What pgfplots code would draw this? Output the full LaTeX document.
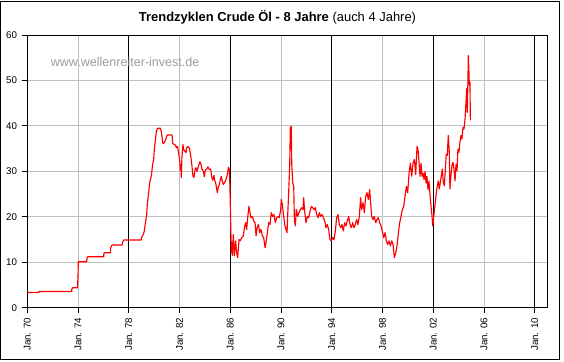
\documentclass[border=0pt]{standalone}
\usepackage{pgfplots}
\pgfplotsset{compat=1.18}
\usepackage{fontspec}
\setmainfont{Liberation Sans}
\definecolor{gridgray}{RGB}{192,192,192}
\definecolor{wmgray}{RGB}{155,155,155}
\begin{document}
\begin{tikzpicture}
\begin{axis}[
  at={(0,0)}, anchor=south west,
  scale only axis, width=520.2bp, height=272.7bp,
  xmin=1970, xmax=2011, ymin=0, ymax=60,
  xtick={1970,1974,...,2010},
  xticklabels={Jan. 70,Jan. 74,Jan. 78,Jan. 82,Jan. 86,Jan. 90,Jan. 94,Jan. 98,Jan. 02,Jan. 06,Jan. 10},
  ytick={0,10,...,60},
  xmajorgrids, ymajorgrids,
  major grid style={gridgray, line width=1bp},
  extra x ticks={1978,1986,1994,2002,2010},
  extra x tick labels={},
  extra x tick style={grid=major, major grid style={black, line width=1bp}},
  tick align=outside, major tick length=5bp,
  tick style={black, line width=1bp},
  xtick pos=bottom, ytick pos=left,
  axis line style={black, line width=1bp},
  /pgf/number format/assume math mode=true,
  x tick label style={rotate=90, anchor=east, inner sep=0pt, font=\fontsize{9.8}{11}\selectfont},
  y tick label style={anchor=east, inner sep=0pt, font=\fontsize{9.8}{11}\selectfont},
  xticklabel shift=5bp, yticklabel shift=5bp,
  clip=true,
]
\addplot[red, line width=1.15bp, line join=round] table {
1970.00 3.35
1970.92 3.35
1970.92 3.55
1973.50 3.55
1973.50 4.0
1973.58 4.4
1973.96 4.4
1974.00 7.3
1974.02 10.1
1974.68 10.1
1974.68 10.6
1974.76 11.2
1976.02 11.2
1976.02 11.7
1976.07 12.1
1976.57 12.1
1976.57 13.2
1976.68 13.8
1977.49 13.8
1977.49 14.3
1977.60 14.9
1978.99 14.9
1978.99 15.4
1979.09 15.8
1979.22 16.8
1979.30 18.5
1979.41 20.5
1979.46 22.9
1979.57 25.3
1979.65 27.6
1979.78 29.1
1979.88 31.6
1979.96 32.6
1980.01 34.8
1980.12 37.4
1980.17 38.8
1980.28 39.5
1980.49 39.5
1980.57 38.6
1980.64 37.0
1980.69 36.1
1980.80 36.3
1980.91 37.0
1981.01 37.9
1981.06 38.0
1981.41 38.0
1981.46 36.1
1981.67 35.8
1981.75 35.2
1981.85 35.5
1981.90 34.4
1982.01 32.6
1982.06 30.2
1982.12 31.5
1982.14 28.6
1982.19 33.3
1982.27 35.9
1982.32 34.8
1982.43 34.4
1982.51 34.1
1982.56 35.2
1982.67 35.5
1982.75 35.2
1982.80 34.8
1982.90 33.0
1982.98 31.1
1983.06 28.9
1983.14 28.7
1983.22 30.4
1983.30 30.8
1983.38 30.0
1983.48 31.1
1983.61 32.1
1983.69 31.5
1983.77 30.5
1983.88 30.0
1983.95 28.8
1984.03 30.3
1984.14 30.5
1984.24 31.0
1984.35 30.4
1984.45 30.5
1984.53 28.9
1984.61 28.0
1984.71 29.1
1984.79 27.8
1984.87 27.1
1984.98 25.3
1985.06 26.6
1985.14 27.1
1985.22 28.2
1985.29 28.9
1985.37 27.8
1985.45 27.1
1985.56 27.6
1985.66 28.2
1985.77 29.3
1985.85 30.9
1985.93 30.4
1985.97 26.7
1986.01 21.2
1986.08 12.1
1986.11 14.5
1986.16 11.5
1986.24 16.1
1986.32 11.4
1986.42 14.7
1986.50 12.1
1986.58 11.0
1986.69 15.0
1986.77 14.7
1986.90 15.4
1987.03 15.8
1987.11 17.6
1987.21 18.7
1987.29 17.2
1987.37 19.8
1987.47 22.3
1987.55 20.9
1987.63 19.8
1987.74 20.1
1987.84 19.1
1987.95 18.7
1988.03 15.8
1988.11 17.6
1988.21 18.3
1988.32 16.5
1988.42 17.2
1988.53 15.8
1988.63 15.4
1988.74 13.2
1988.81 14.3
1988.92 16.5
1989.02 18.7
1989.13 18.3
1989.23 20.9
1989.34 20.1
1989.44 20.5
1989.55 18.7
1989.65 19.8
1989.76 20.1
1989.86 19.8
1989.97 21.6
1990.02 23.8
1990.10 22.7
1990.21 20.1
1990.29 18.3
1990.39 17.2
1990.47 16.5
1990.52 20.1
1990.60 25.3
1990.68 31.1
1990.73 39.5
1990.81 39.9
1990.84 31.8
1990.92 27.4
1991.00 26.7
1991.05 19.4
1991.13 18.0
1991.20 21.6
1991.31 20.1
1991.41 20.9
1991.52 21.6
1991.62 22.0
1991.73 21.6
1991.78 24.2
1991.86 21.2
1991.97 18.7
1992.07 20.1
1992.18 19.8
1992.28 21.2
1992.39 22.3
1992.49 22.0
1992.60 21.6
1992.70 22.0
1992.81 20.5
1992.91 19.8
1993.02 20.9
1993.12 20.1
1993.23 20.5
1993.33 19.8
1993.44 19.1
1993.54 17.6
1993.65 18.3
1993.75 17.2
1993.86 15.0
1993.96 14.7
1994.07 15.4
1994.17 15.0
1994.28 16.9
1994.38 19.8
1994.49 20.5
1994.59 18.3
1994.70 17.6
1994.80 18.3
1994.91 16.9
1995.01 18.7
1995.12 18.0
1995.22 19.1
1995.33 20.1
1995.43 18.3
1995.54 17.6
1995.64 18.7
1995.75 17.6
1995.85 18.3
1995.96 19.4
1996.06 18.3
1996.17 20.1
1996.27 24.2
1996.35 21.6
1996.46 23.1
1996.56 20.9
1996.67 24.5
1996.77 25.3
1996.88 23.8
1996.98 26.0
1997.06 23.1
1997.14 20.1
1997.25 19.4
1997.35 20.1
1997.46 18.7
1997.56 19.4
1997.67 19.8
1997.77 18.7
1997.88 18.0
1997.98 16.9
1998.09 15.4
1998.20 16.5
1998.30 14.7
1998.41 13.9
1998.51 14.7
1998.62 13.6
1998.72 14.7
1998.83 13.9
1998.93 11.0
1999.04 12.1
1999.14 13.6
1999.25 16.5
1999.35 18.7
1999.46 20.1
1999.56 21.6
1999.67 22.3
1999.77 24.5
1999.88 26.7
1999.98 25.3
2000.09 29.6
2000.19 31.8
2000.30 28.9
2000.40 31.8
2000.51 32.6
2000.61 29.3
2000.72 35.5
2000.80 34.7
2000.87 32.2
2000.95 28.9
2001.03 31.8
2001.11 28.9
2001.19 29.6
2001.27 28.2
2001.35 30.0
2001.43 27.4
2001.50 28.9
2001.58 26.0
2001.66 27.8
2001.74 24.9
2001.82 22.3
2001.90 20.1
2001.95 18.0
2002.00 19.1
2002.08 21.3
2002.16 23.2
2002.24 25.4
2002.32 26.8
2002.39 27.9
2002.47 26.1
2002.55 27.6
2002.63 29.0
2002.71 30.5
2002.79 27.6
2002.87 26.8
2002.95 30.5
2003.02 33.8
2003.10 33.5
2003.18 37.9
2003.26 34.2
2003.31 26.1
2003.39 29.0
2003.47 31.3
2003.55 32.0
2003.63 30.5
2003.71 27.9
2003.79 31.6
2003.87 30.1
2003.94 34.9
2004.02 34.2
2004.10 36.4
2004.18 37.9
2004.26 37.1
2004.34 39.7
2004.42 39.3
2004.50 41.5
2004.57 44.9
2004.63 48.2
2004.68 43.0
2004.73 50.4
2004.76 55.5
2004.81 51.8
2004.84 48.9
2004.89 49.6
2004.92 41.2
};
\node[anchor=west, inner sep=0pt, text=wmgray, font=\fontsize{12.6}{14}\selectfont] at (axis cs:1971.84,54.1) {www.wellenreiter-invest.de};
\end{axis}
\node[font=\fontsize{13}{15}\selectfont, inner sep=0pt] at (250.2bp,290.7bp) {\textbf{Trendzyklen Crude Öl - 8 Jahre} (auch 4 Jahre)};
\draw[black, line width=1bp] (-26.8bp,306.2bp) rectangle (532.2bp,-51.8bp);
\pgfresetboundingbox
\path[use as bounding box] (-27.3bp,-54.3bp) rectangle (536.7bp,307.7bp);
\end{tikzpicture}
\end{document}
